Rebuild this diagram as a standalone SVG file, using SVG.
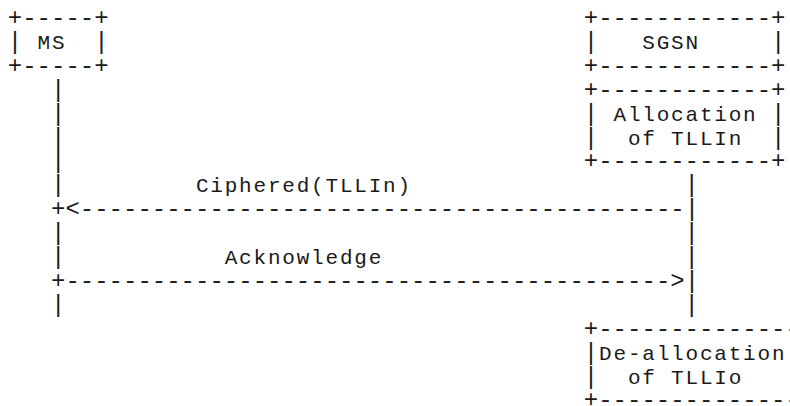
<svg xmlns="http://www.w3.org/2000/svg" width="790" height="406" viewBox="0 0 790 406" xml:space="preserve">
<style>
text { font-family: "Liberation Mono", "Courier New", monospace; font-size: 24px; fill: #1a1a1a; white-space: pre; }
text.w { font-size: 21px; letter-spacing: 1.8px; }
</style>
<rect x="0" y="0" width="790" height="406" fill="#fff"/>
<g id="node-ms">
<text x="7.8" y="25">+-----+</text>
<text x="7.8" y="48.9">|</text>
<text class="w" x="37.5" y="48.9">MS</text>
<text x="94.2" y="48.9">|</text>
<text x="7.8" y="72.8">+-----+</text>
</g>
<g id="node-sgsn">
<text x="583.8" y="25">+------------+</text>
<text x="583.8" y="48.9">|</text>
<text class="w" x="642.3" y="48.9">SGSN</text>
<text x="771" y="48.9">|</text>
<text x="583.8" y="72.8">+------------+</text>
</g>
<g id="node-allocation">
<text x="583.8" y="96.7">+------------+</text>
<text x="583.8" y="120.6">|</text>
<text class="w" x="613.5" y="120.6">Allocation</text>
<text x="771" y="120.6">|</text>
<text x="583.8" y="144.5">|</text>
<text class="w" x="627.9" y="144.5">of TLLIn</text>
<text x="771" y="144.5">|</text>
<text x="583.8" y="168.4">+------------+</text>
</g>
<g id="node-deallocation">
<text x="583.8" y="335.7">+--------------</text>
<text x="583.8" y="359.6">|</text>
<text class="w" x="599.1" y="359.6">De-allocation</text>
<text x="583.8" y="383.5">|</text>
<text class="w" x="627.9" y="383.5">of TLLIo</text>
<text x="583.8" y="407.4">+--------------</text>
</g>
<g id="connectors">
<text x="51" y="96.7">|</text>
<text x="51" y="120.6">|</text>
<text x="51" y="144.5">|</text>
<text x="51" y="168.4">|</text>
<text x="51" y="192.3">|</text>
<text x="684.6" y="192.3">|</text>
<text class="w" x="195.9" y="192.3">Ciphered(TLLIn)</text>
<text x="51" y="216.2">+&lt;------------------------------------------|</text>
<text x="51" y="240.1">|</text>
<text x="684.6" y="240.1">|</text>
<text x="51" y="264">|</text>
<text x="684.6" y="264">|</text>
<text class="w" x="224.7" y="264">Acknowledge</text>
<text x="51" y="287.9">+------------------------------------------&gt;|</text>
<text x="51" y="311.8">|</text>
<text x="684.6" y="311.8">|</text>
</g>
</svg>
